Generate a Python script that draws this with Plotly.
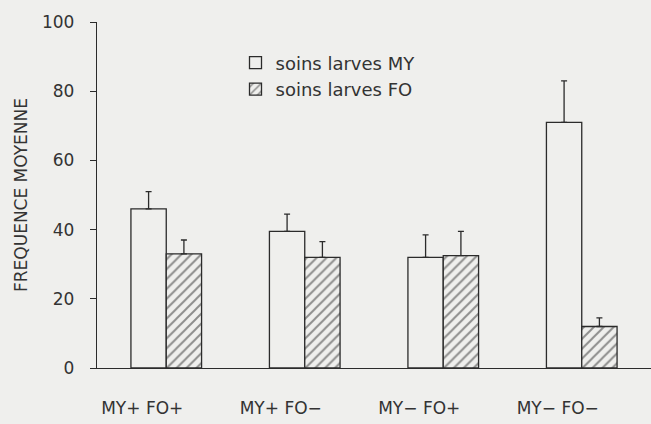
import plotly.graph_objects as go

categories = ["MY+ FO+", "MY+ FO−", "MY− FO+", "MY− FO−"]
my_values = [46, 39.5, 32, 71]
my_err = [5, 5, 6.5, 12]
fo_values = [33, 32, 32.5, 12]
fo_err = [4, 4.5, 7, 2.5]
y_ticks = [0, 20, 40, 60, 80, 100]

BG = "#efefed"
INK = "#2b2b2b"
FONT = "DejaVu Sans, Verdana, sans-serif"

fig = go.Figure()
fig.add_trace(go.Bar(
    name="soins larves MY", x=categories, y=my_values,
    marker=dict(color=BG, line=dict(color=INK, width=1.3)),
    error_y=dict(type="data", symmetric=False, array=my_err,
                 arrayminus=[0] * len(my_err), color=INK, thickness=1.3, width=3),
))
fig.add_trace(go.Bar(
    name="soins larves FO", x=categories, y=fo_values,
    marker=dict(color=BG, line=dict(color=INK, width=1.3),
                pattern=dict(shape="/", fgcolor=INK, bgcolor=BG, size=7, solidity=0.28)),
    error_y=dict(type="data", symmetric=False, array=fo_err,
                 arrayminus=[0] * len(fo_err), color=INK, thickness=1.3, width=3),
))

fig.update_layout(
    width=651, height=424,
    paper_bgcolor=BG, plot_bgcolor=BG,
    margin=dict(l=97, r=0, t=22, b=56),
    barmode="group", bargap=0.49, bargroupgap=0,
    font=dict(family=FONT, size=16, color="#333"),
    showlegend=True,
    legend=dict(x=0.25, y=0.935, xanchor="left", yanchor="top",
                bgcolor="rgba(0,0,0,0)", font=dict(size=18, color="#333"),
                itemwidth=30),
)
fig.update_xaxes(
    showline=True, linecolor=INK, linewidth=1.3, showgrid=False,
    ticks="", ticklabelstandoff=24, ticklabelshift=-24, tickfont=dict(size=17),
)
fig.update_yaxes(
    range=[0, 100], tickvals=y_ticks, showline=True, linecolor=INK, linewidth=1.3,
    showgrid=False, zeroline=False, ticks="outside", ticklen=6, tickcolor=INK,
    tickwidth=1.3, tickfont=dict(size=17), ticklabelstandoff=12,
    title=dict(text="FREQUENCE MOYENNE", font=dict(size=17), standoff=10),
)

fig.write_html(
    "out.html",
    config={"displayModeBar": False},
    post_script="document.body.style.margin='0';document.body.style.background='%s';" % BG,
)
